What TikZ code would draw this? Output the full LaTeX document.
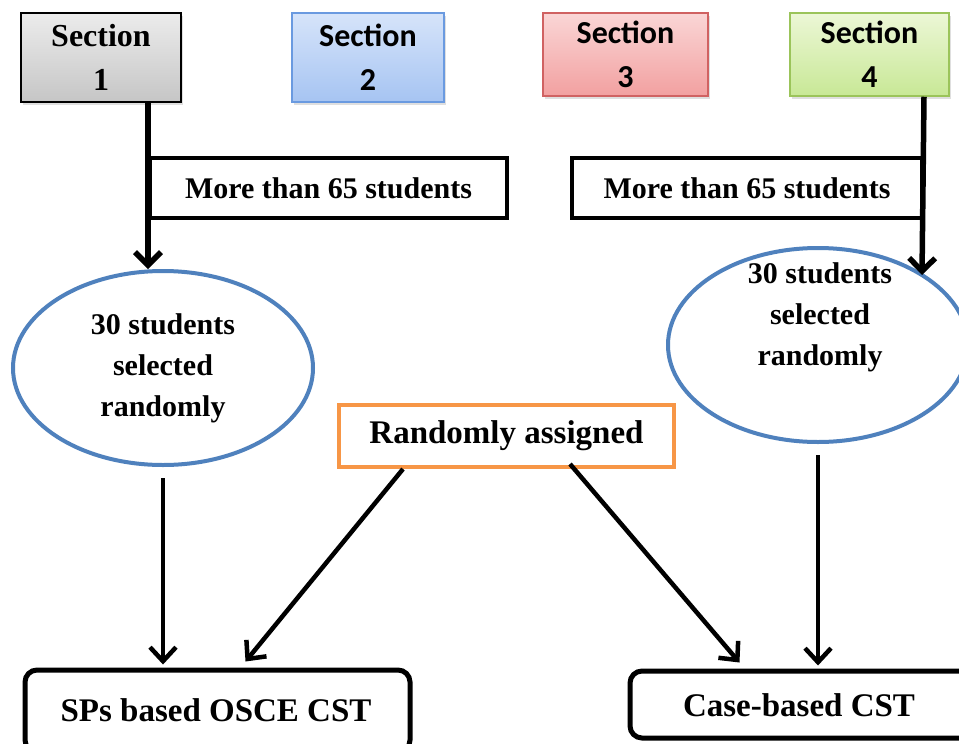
\documentclass[tikz,border=0pt]{standalone}
\usepackage{fontspec}
\setmainfont{Liberation Serif}
\newfontfamily\tnr{Liberation Serif}
\newfontfamily\calib{Carlito}
\usetikzlibrary{shapes.geometric,arrows.meta,shadows,calc}
\definecolor{ellblue}{HTML}{4F81BD}
\definecolor{orng}{HTML}{F79646}
\definecolor{bluebd}{HTML}{6A9AE0}
\definecolor{redbd}{HTML}{D06262}
\definecolor{greenbd}{HTML}{9BC45A}
\tikzset{
  secbox/.style={draw, line width=1.5pt, minimum width=#1, align=center, inner sep=0pt,
     drop shadow={shadow xshift=2pt, shadow yshift=-3pt, opacity=0.25}},
  serifsec/.style={font=\tnr\bfseries\fontsize{32}{44}\selectfont},
  sanssec/.style={font=\calib\bfseries\fontsize{32}{44}\selectfont},
  morebox/.style={draw, line width=4pt, minimum height=60pt, inner sep=0pt,
     font=\tnr\bfseries\fontsize{30}{35}\selectfont},
  ell/.style={draw=ellblue, line width=4pt, ellipse, minimum width=300pt, minimum height=194pt, inner sep=0pt},
  elltext/.style={align=center, font=\tnr\bfseries\fontsize{30}{41}\selectfont},
  endbox/.style={draw, line width=5pt, rounded corners=12pt, inner sep=0pt},
  endtext/.style={font=\tnr\bfseries\fontsize{33}{40}\selectfont},
  arr/.style={line width=5.5pt, -{Straight Barb[length=13pt,width=26pt,line width=5.5pt]}},
  arrthin/.style={line width=4.5pt, -{Straight Barb[length=14pt,width=26pt,line width=4.5pt]}}
}
\begin{document}
\begin{tikzpicture}[x=1pt,y=-1pt]
\useasboundingbox (0,0) rectangle (959,744);
\clip (0,0) rectangle (959,744);
\fill[white] (0,0) rectangle (959,744);

% section boxes
\node[secbox=160pt, minimum height=89pt, serifsec, top color=gray!15, bottom color=gray!45]
  (s1) at (101,57.5) {Section\\1};
\node[secbox=152pt, minimum height=89pt, sanssec, draw=bluebd, top color={rgb,255:red,214;green,228;blue,250}, bottom color={rgb,255:red,166;green,196;blue,242}]
  (s2) at (368,57.5) {Section\\2};
\node[secbox=165pt, minimum height=83pt, sanssec, draw=redbd, top color={rgb,255:red,250;green,214;blue,214}, bottom color={rgb,255:red,242;green,160;blue,160}]
  (s3) at (625.5,54.5) {Section\\3};
\node[secbox=159pt, minimum height=83pt, sanssec, draw=greenbd, top color={rgb,255:red,236;green,247;blue,214}, bottom color={rgb,255:red,200;green,232;blue,150}]
  (s4) at (869.5,54.5) {Section\\4};

% more than boxes
\node[morebox, minimum width=357pt] (m1) at (328.5,188) {More than 65 students};
\node[morebox, minimum width=350pt] (m2) at (747,188) {More than 65 students};

% ellipses
\node[ell, elltext] (e1) at (163,368) {30 students\\selected\\randomly};
\node[ell] (e2) at (818,345) {};
\node[elltext] (e2t) at (820,317) {30 students\\selected\\randomly};

% randomly assigned
\node[draw=orng, line width=4pt, minimum width=335pt, minimum height=62pt, inner sep=0pt,
      font=\tnr\bfseries\fontsize{33}{38}\selectfont] (ra) at (506.5,436) {Randomly assigned};

% end boxes
\node[endbox, minimum width=385pt, minimum height=82pt] (sp) at (217.5,711) {};
\node[endtext] (spt) at (216,710) {SPs based OSCE CST};
\node[endbox, minimum width=345pt, minimum height=67pt] (cb) at (802.5,704.5) {};
\node[endtext] (cbt) at (799,705) {Case-based CST};

% connectors
\coordinate (t2) at (922,275);
\draw[arr] (s1.south -| m1.west) -- (e1.north -| m1.west);
\draw[arr] (s4.south -| m2.east) -- (t2);
\draw[arrthin] ([yshift=-11pt]e1.south) -- ([yshift=3pt]e1.south |- sp.north);
\draw[arrthin] ([yshift=-11pt]e2.south) -- ([yshift=3pt]e2.south |- cb.north);
\draw[arrthin] ([xshift=66pt]ra.south west) -- ([xshift=223pt,yshift=6pt]sp.north west);
\draw[arrthin] ([xshift=233pt,yshift=5pt]ra.south west) -- ([xshift=112pt,yshift=6pt]cb.north west);
\end{tikzpicture}
\end{document}
